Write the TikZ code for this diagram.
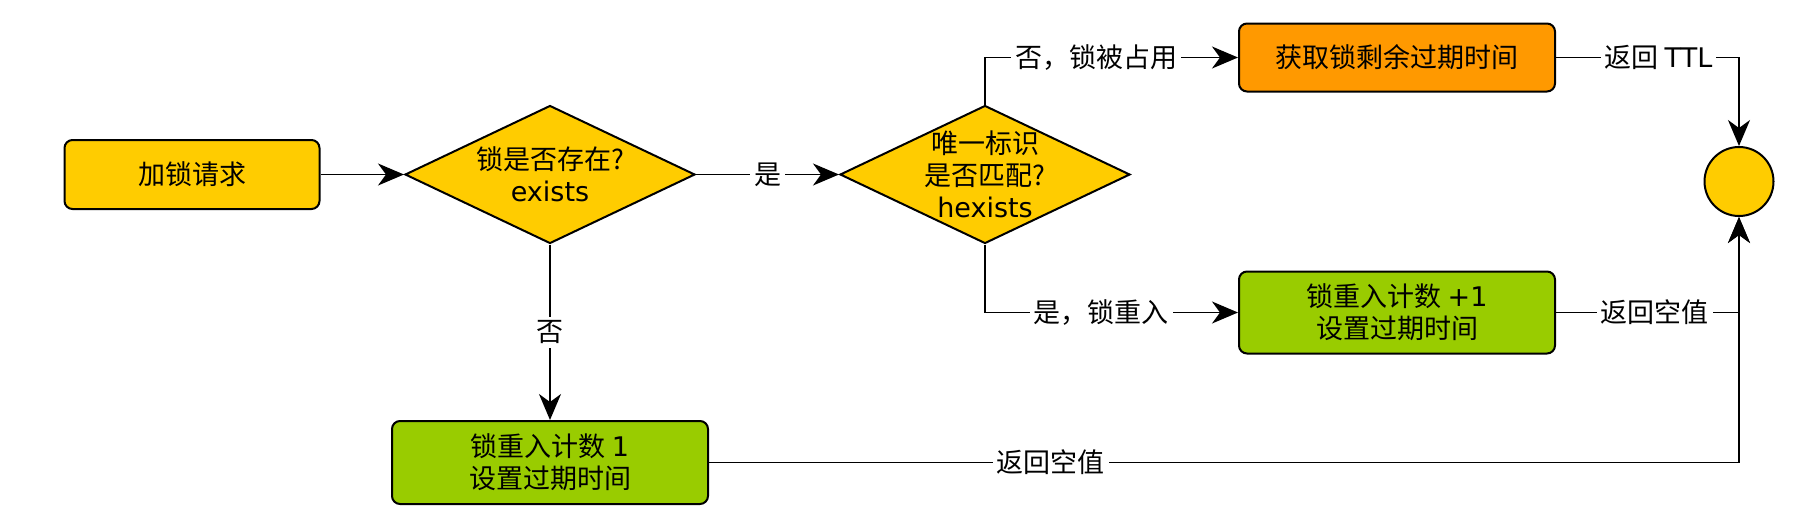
\documentclass[tikz,border=0pt]{standalone}
\usepackage{fontspec}
\setmainfont{Noto Sans CJK SC}
\newfontfamily\lat{DejaVu Sans}
\usetikzlibrary{shapes.geometric, arrows.meta}
\definecolor{lockyellow}{HTML}{FFCC00}
\definecolor{lockorange}{HTML}{FF9900}
\definecolor{lockgreen}{HTML}{99CC00}
\tikzset{
    flowbox/.style={draw=black, line width=1pt, rounded corners=4pt, minimum width=158pt, align=center},
    flowtest/.style={draw=black, line width=1pt, fill=lockyellow, shape=diamond, aspect=2.1, minimum width=145pt, minimum height=69pt, inner xsep=0pt, inner ysep=-4pt, align=center},
    flowline/.style={line width=0.8pt, -{Stealth[length=13pt, width=11pt, inset=4pt]}},
    flowlabel/.style={fill=white, inner sep=2pt},
}

\begin{document}
\begin{tikzpicture}[x=0.5pt, y=-0.5pt, font=\fontsize{13.5pt}{16pt}\selectfont]
    \newcommand\posReq{192}
    \newcommand\posTest{550}
    \newcommand\posMatch{985}
    \newcommand\posBox{1397}
    \newcommand\posEnd{1739}

    \useasboundingbox (0,0) rectangle (1812,526);

    \node[flowbox, fill=lockyellow, minimum width=127.5pt, minimum height=34.5pt] (req) at (\posReq, 174.5){加锁请求};
    \node[flowtest] (exist) at (\posTest, 174.5){锁是否存在?\\{\lat exists}};
    \node[flowtest] (match) at (\posMatch, 174.5){唯一标识\\是否匹配?\\{\lat hexists}};
    \node[flowbox, fill=lockorange, minimum height=34pt] (ttl) at (\posBox, 57.5){获取锁剩余过期时间};
    \node[flowbox, fill=lockgreen, minimum height=41pt] (reent) at (\posBox, 312.5){锁重入计数 {\lat +1}\\设置过期时间};
    \node[flowbox, fill=lockgreen, minimum height=41.5pt] (init) at (\posTest, 462.5){锁重入计数 {\lat 1}\\设置过期时间};
    \node[draw=black, line width=1pt, fill=lockyellow, shape=circle, minimum size=34.5pt] (done) at (\posEnd, 181.5){};

    \draw[flowline] (req.east) -- (exist.west);
    \draw[flowline] (exist.east) -- node[flowlabel]{是} (match.west);
    \draw[flowline] (exist.south) -- node[flowlabel]{否} (init.north);
    \draw[flowline] (match.north) |- node[flowlabel, pos=0.72]{否，锁被占用} (ttl.west);
    \draw[flowline] (match.south) |- node[flowlabel, pos=0.73]{是，锁重入} (reent.west);

    \draw[flowline] (ttl.east) -| node[flowlabel, pos=0.28]{返回 {\lat TTL}} (done.north);
    \draw[flowline] (reent.east) -| node[flowlabel, pos=0.27]{返回空值} (done.south);
    \draw[flowline] (init.east) -| node[flowlabel, pos=0.166]{返回空值} (done.south);
\end{tikzpicture}
\end{document}
